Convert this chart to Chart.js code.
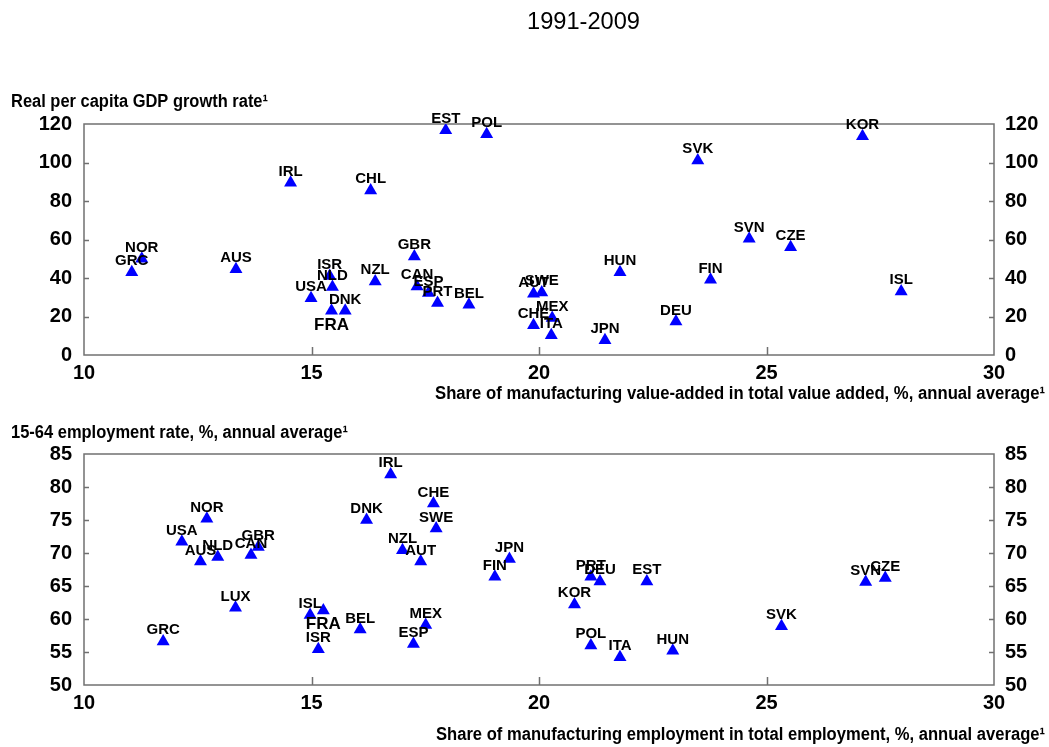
<!DOCTYPE html>
<html>
<head>
<meta charset="utf-8">
<script src="https://cdn.jsdelivr.net/npm/chart.js@4.4.0/dist/chart.umd.min.js"></script>
<style>
  body { margin: 0; background: #fff; }
  .box { position: absolute; left: 0; width: 1049px; }
</style>
</head>
<body>
<div class="box" style="top:0;height:410px"><canvas id="gdpChart" width="1049" height="410"></canvas></div>
<div class="box" style="top:410px;height:337px"><canvas id="empChart" width="1049" height="337"></canvas></div>
<script>
// tick values of the axes
const xTicks = [10, 15, 20, 25, 30];
const gdpTicks = [0, 20, 40, 60, 80, 100, 120];
const empTicks = [50, 55, 60, 65, 70, 75, 80, 85];

// upper panel: manufacturing share of value added vs real per capita GDP growth
const gdpCountries = ['GRC', 'NOR', 'AUS', 'IRL', 'CHL', 'USA', 'ISR', 'NLD', 'FRA', 'DNK', 'NZL', 'GBR', 'CAN', 'ESP', 'PRT', 'BEL',
  'AUT', 'SWE', 'CHE', 'MEX', 'ITA', 'JPN', 'HUN', 'DEU', 'FIN', 'SVK', 'EST', 'POL', 'SVN', 'CZE', 'KOR', 'ISL'];
const gdpManuf = [11.05, 11.27, 13.34, 14.54, 16.3, 14.99, 15.4, 15.46, 15.44, 15.74, 16.4, 17.26, 17.32, 17.57, 17.77, 18.46,
  19.88, 20.06, 19.88, 20.29, 20.27, 21.45, 21.78, 23.01, 23.77, 23.49, 17.95, 18.85, 24.62, 25.53, 27.11, 27.96];
const gdpGrowth = [43, 50, 44.5, 89.5, 85.5, 29.5, 41, 35.3, 23, 23, 38.2, 51.2, 35.6, 32.2, 27, 26.1,
  31.8, 32.5, 15.4, 19.2, 10.2, 7.7, 43, 17.4, 39.1, 101.1, 116.7, 114.7, 60.4, 56, 113.7, 33];

// lower panel: manufacturing share of employment vs 15-64 employment rate
const empCountries = ['IRL', 'NOR', 'DNK', 'USA', 'AUS', 'NLD', 'CAN', 'GBR', 'NZL', 'LUX', 'GRC', 'ISL', 'FRA', 'BEL', 'ISR', 'CHE',
  'SWE', 'AUT', 'JPN', 'FIN', 'PRT', 'DEU', 'EST', 'KOR', 'MEX', 'ESP', 'POL', 'ITA', 'HUN', 'SVK', 'SVN', 'CZE'];
const empManuf = [16.74, 12.7, 16.21, 12.15, 12.56, 12.94, 13.67, 13.83, 17.0, 13.33, 11.74, 14.97, 15.26, 16.07, 15.15, 17.68,
  17.74, 17.4, 19.35, 19.03, 21.14, 21.34, 22.37, 20.78, 17.51, 17.24, 21.14, 21.78, 22.94, 25.33, 27.18, 27.61];
const empRate = [81.9, 75.2, 75.0, 71.7, 68.7, 69.4, 69.7, 70.9, 70.4, 61.7, 56.6, 60.6, 61.3, 58.4, 55.4, 77.5,
  73.7, 68.7, 69.1, 66.4, 66.4, 65.7, 65.7, 62.2, 59.1, 56.2, 56.0, 54.2, 55.2, 58.9, 65.6, 66.2];

const FONT = "'Liberation Sans', Arial, sans-serif";
const AXIS_GREY = '#707070';


function toPoints(xs, ys) {
  return xs.map((x, i) => ({ x: x, y: ys[i] }));
}


// rahmen um die plotfläche und kleine ticks nach innen
const frameTicks = {
  id: 'frameTicks',
  beforeDatasetsDraw(chart) {
    const a = chart.chartArea;
    const c = chart.ctx;
    const sx = chart.scales.x, sy = chart.scales.y, sy2 = chart.scales.y2;
    c.save();
    c.strokeStyle = AXIS_GREY;
    c.lineWidth = 1.5;
    c.strokeRect(a.left, a.top, a.right - a.left, a.bottom - a.top);
    c.beginPath();
    sx.ticks.forEach(t => {
      if (t.value <= sx.min || t.value >= sx.max) return;
      const px = Math.round(sx.getPixelForValue(t.value)) + 0.5;
      c.moveTo(px, a.bottom);
      c.lineTo(px, a.bottom - 8);
    });
    sy.ticks.forEach(t => {
      if (t.value <= sy.min || t.value >= sy.max) return;
      const py = Math.round(sy.getPixelForValue(t.value)) + 0.5;
      c.moveTo(a.left, py);
      c.lineTo(a.left + 5, py);
    });
    sy2.ticks.forEach(t => {
      if (t.value <= sy2.min || t.value >= sy2.max) return;
      const py = Math.round(sy2.getPixelForValue(t.value)) + 0.5;
      c.moveTo(a.right, py);
      c.lineTo(a.right - 5, py);
    });
    c.stroke();
    c.restore();
  }
};


// länderkürzel über den dreiecken, FRA fett darunter
const countryLabels = {
  id: 'countryLabels',
  afterDatasetsDraw(chart, args, opts) {
    const c = chart.ctx;
    c.save();
    c.fillStyle = '#000';
    c.textAlign = 'center';
    c.textBaseline = 'alphabetic';
    chart.getDatasetMeta(0).data.forEach((pt, i) => {
      const name = opts.names[i];
      if (name === 'FRA') {
        c.font = 'bold 17px ' + FONT;
        c.fillText(name, pt.x, pt.y + 19);
      } else {
        c.font = 'bold 15px ' + FONT;
        c.fillText(name, pt.x, pt.y - 7);
      }
    });
    c.restore();
  }
};


// titel und achsentitel
const axisTexts = {
  id: 'axisTexts',
  afterDraw(chart, args, opts) {
    const c = chart.ctx;
    c.save();
    c.fillStyle = '#000';
    c.textBaseline = 'middle';
    opts.items.forEach(t => {
      c.font = t.font;
      c.textAlign = t.align;
      c.fillText(t.text, t.x, t.y, t.maxWidth);
    });
    c.restore();
  }
};


function tickFont() {
  return { family: FONT, size: 20, weight: 'bold' };
}


function makeChart(id, names, xs, ys, yTicks, padTop, xHeight, texts) {
  const yMin = yTicks[0];
  const yMax = yTicks[yTicks.length - 1];
  const yScale = (pos, width, pad) => ({
    position: pos,
    min: yMin,
    max: yMax,
    afterBuildTicks: s => { s.ticks = yTicks.map(v => ({ value: v })); },
    afterFit: s => { s.width = width; },
    grid: { display: false, drawTicks: false },
    border: { display: false },
    ticks: { padding: pad, font: tickFont(), color: '#000' }
  });

  new Chart(document.getElementById(id), {
    type: 'scatter',
    data: {
      datasets: [{
        data: toPoints(xs, ys),
        pointStyle: 'triangle',
        pointRadius: 7.5,
        pointHoverRadius: 7.5,
        backgroundColor: '#0000ff',
        borderColor: '#0000ff',
        borderWidth: 0
      }]
    },
    options: {
      responsive: false,
      animation: false,
      events: [],
      layout: { padding: { top: padTop, left: 0, right: 0, bottom: 0 } },
      plugins: {
        legend: { display: false },
        tooltip: { enabled: false },
        countryLabels: { names: names },
        axisTexts: { items: texts }
      },
      scales: {
        x: {
          type: 'linear',
          min: xTicks[0],
          max: xTicks[xTicks.length - 1],
          afterBuildTicks: s => { s.ticks = xTicks.map(v => ({ value: v })); },
          afterFit: s => { s.height = xHeight; },
          grid: { display: false, drawTicks: false },
          border: { display: false },
          ticks: { padding: 6, font: tickFont(), color: '#000', maxRotation: 0 }
        },
        y: yScale('left', 84, 12),
        y2: yScale('right', 55, 11)
      }
    },
    plugins: [frameTicks, countryLabels, axisTexts]
  });
}


makeChart('gdpChart', gdpCountries, gdpManuf, gdpGrowth, gdpTicks, 124, 55, [
  { text: '1991-2009', x: 583.5, y: 22, font: '24px ' + FONT, align: 'center', maxWidth: 113 },
  { text: 'Real per capita GDP growth rate¹', x: 11, y: 102, font: 'bold 18px ' + FONT, align: 'left', maxWidth: 257 },
  { text: 'Share of manufacturing value-added in total value added, %, annual average¹', x: 1045, y: 394, font: 'bold 18px ' + FONT, align: 'right', maxWidth: 610 }
]);

makeChart('empChart', empCountries, empManuf, empRate, empTicks, 44, 62, [
  { text: '15-64 employment rate, %, annual average¹', x: 11, y: 23, font: 'bold 18px ' + FONT, align: 'left', maxWidth: 337 },
  { text: 'Share of manufacturing employment in total employment, %, annual average¹', x: 1045, y: 325, font: 'bold 18px ' + FONT, align: 'right', maxWidth: 609 }
]);
</script>
</body>
</html>
